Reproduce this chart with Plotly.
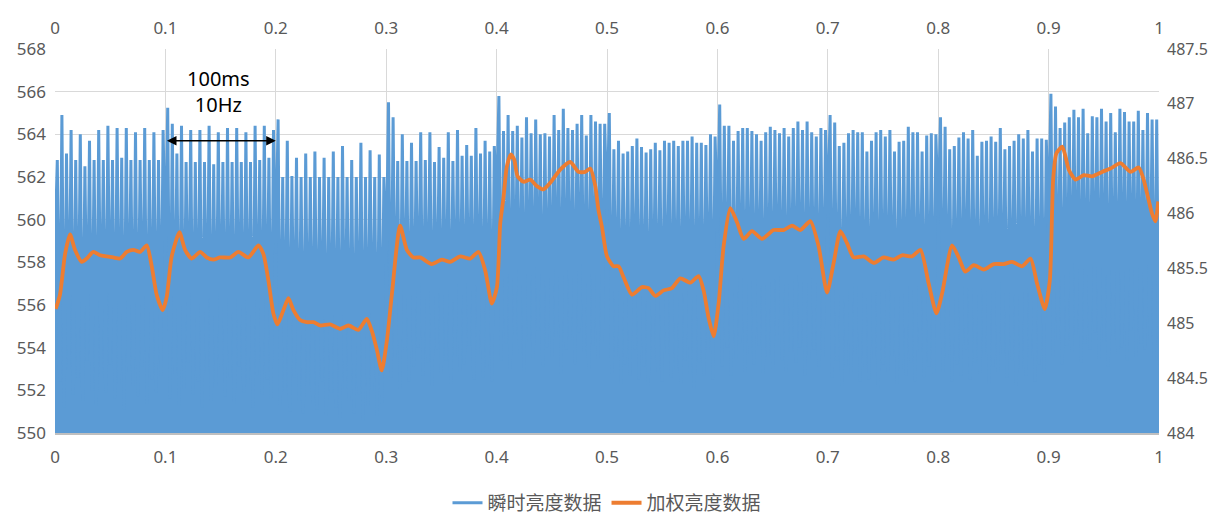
import plotly.graph_objects as go

# ---------------- data ----------------
# x-axis tick labels (seconds)
x_ticks = [0, 0.1, 0.2, 0.3, 0.4, 0.5, 0.6, 0.7, 0.8, 0.9, 1]
y2_ticks = [484, 484.5, 485, 485.5, 486, 486.5, 487, 487.5]

# Instantaneous brightness: peak values of each flicker pulse, per 0.1 s segment (24 per segment)
peaks_0 = [562.8, 564.9, 563.1, 564.2, 562.8, 564.0, 562.5, 563.7, 562.8, 564.2, 562.8, 564.4,
           562.8, 564.3, 562.9, 564.3, 562.8, 564.1, 562.8, 564.3, 562.8, 564.1, 562.8, 564.2]
peaks_1 = [565.25, 564.5, 563.1, 564.4, 562.7, 564.2, 562.7, 564.2, 562.7, 564.4, 562.6, 564.1,
           562.7, 564.3, 562.7, 564.3, 562.7, 564.1, 562.7, 564.4, 562.8, 564.4, 562.9, 564.2]
peaks_2 = [564.7, 562.0, 563.7, 562.05, 562.9, 562.0, 563.1, 562.0, 563.2, 562.0, 562.9, 562.0,
           563.2, 562.0, 563.45, 562.0, 562.8, 562.0, 563.6, 562.0, 563.25, 562.0, 563.05, 562.0]
peaks_3 = [565.5, 564.8, 562.75, 564.0, 562.75, 563.6, 562.75, 564.1, 562.8, 564.1, 562.7, 563.4,
           562.9, 564.1, 562.75, 564.2, 563.0, 563.5, 563.0, 564.3, 563.1, 563.7, 563.2, 563.45]
peaks_4 = [565.8, 564.15, 564.9, 564.15, 564.4, 563.85, 564.8, 564.05, 564.7, 564.0, 564.05, 563.9,
           564.9, 564.2, 565.2, 564.3, 564.2, 564.5, 564.9, 563.95, 564.9, 564.6, 564.5, 564.5]
peaks_5 = [565.0, 563.3, 563.7, 563.1, 563.2, 563.45, 563.8, 563.4, 563.15, 563.3, 563.6, 563.25,
           563.7, 563.6, 563.7, 563.45, 563.7, 563.7, 563.9, 563.6, 563.6, 563.5, 564.0, 563.9]
peaks_6 = [565.4, 564.4, 564.4, 563.7, 564.15, 564.3, 564.3, 564.15, 564.0, 563.7, 564.1, 564.35,
           564.2, 564.05, 564.3, 563.9, 564.3, 564.6, 564.2, 564.6, 564.1, 563.9, 564.3, 564.2]
peaks_7 = [564.9, 564.55, 563.45, 563.6, 564.05, 564.2, 564.1, 564.1, 563.2, 563.7, 564.1, 564.2,
           563.9, 564.2, 563.2, 563.65, 563.7, 564.35, 564.1, 564.1, 563.2, 563.95, 564.05, 564.0]
peaks_8 = [564.8, 564.35, 563.3, 563.45, 563.85, 564.1, 563.8, 564.2, 563.0, 563.65, 563.7, 563.9,
           563.65, 564.3, 563.3, 563.45, 563.7, 564.0, 563.8, 564.2, 563.2, 563.8, 563.8, 563.75]
peaks_9 = [565.9, 565.3, 564.3, 564.55, 564.8, 565.15, 564.8, 565.2, 564.05, 564.85, 564.8, 565.2,
           564.6, 565.0, 564.1, 565.2, 565.05, 564.6, 564.6, 565.1, 564.2, 565.0, 564.7, 564.7]

# Instantaneous brightness: trough values before each pulse (first one of each segment is the gap at the 0.1 s mark)
lows_0 = [558.7, 552.4, 551.2, 553.0, 551.8, 552.6, 551.5, 553.4, 552.0, 551.3, 552.8, 551.9,
          553.2, 551.6, 552.3, 551.1, 552.9, 552.2, 551.7, 553.1, 551.4, 552.5, 551.9, 552.7]
lows_1 = [558.3, 551.6, 552.8, 551.3, 552.1, 553.3, 551.8, 552.4, 551.2, 552.9, 551.5, 552.2,
          553.0, 551.7, 552.6, 551.4, 553.1, 551.9, 552.3, 551.2, 552.7, 551.8, 552.5, 551.6]
lows_2 = [558.4, 551.3, 552.0, 551.0, 552.6, 551.5, 550.9, 552.2, 551.4, 551.1, 552.4, 550.8,
          551.9, 551.2, 550.7, 552.1, 551.5, 550.9, 551.8, 550.6, 551.3, 552.0, 550.8, 551.4]
lows_3 = [557.6, 552.6, 553.5, 552.1, 553.8, 552.4, 553.1, 554.0, 552.7, 553.3, 552.2, 553.9,
          552.8, 553.4, 552.3, 553.6, 552.9, 553.2, 554.1, 552.5, 553.7, 552.6, 553.0, 552.4]
lows_4 = [560.6, 553.4, 554.2, 553.0, 554.6, 553.7, 552.9, 554.3, 553.5, 554.8, 553.1, 554.0,
          553.6, 554.5, 552.8, 553.9, 554.4, 553.2, 554.7, 553.8, 553.0, 554.1, 553.5, 554.3]
lows_5 = [560.2, 552.8, 553.6, 552.3, 553.2, 552.7, 553.9, 552.5, 553.1, 552.2, 553.5, 552.9,
          552.4, 553.7, 552.6, 553.0, 552.3, 553.4, 552.8, 552.1, 553.3, 552.7, 553.8, 552.5]
lows_6 = [559.4, 553.1, 554.0, 552.7, 553.5, 554.2, 552.9, 553.7, 553.2, 554.1, 552.8, 553.6,
          553.0, 554.3, 553.4, 552.9, 553.8, 553.3, 554.0, 552.7, 553.5, 553.9, 553.1, 553.6]
lows_7 = [560.1, 552.6, 553.4, 552.2, 553.1, 552.8, 553.7, 552.4, 553.0, 552.5, 553.5, 552.1,
          553.2, 552.9, 553.6, 552.3, 553.0, 552.7, 553.3, 552.4, 553.8, 552.6, 553.1, 552.8]
lows_8 = [560.1, 552.9, 553.5, 552.4, 553.2, 552.7, 553.9, 552.5, 553.3, 552.8, 553.6, 552.3,
          553.1, 552.9, 553.7, 552.6, 553.4, 552.2, 553.0, 552.7, 553.5, 552.4, 553.2, 552.8]
lows_9 = [559.75, 553.6, 554.4, 553.2, 554.1, 553.8, 554.6, 553.3, 554.2, 553.9, 554.7, 553.5,
          554.3, 553.1, 554.5, 553.7, 554.0, 553.4, 554.8, 553.6, 554.2, 553.9, 554.4, 553.5]
low_end = 553.2

# Weighted brightness (right axis)
w_time = [0.0006, 0.0045, 0.0091, 0.0136, 0.0181, 0.0242, 0.0287, 0.0347, 0.0408, 0.0468,
          0.0529, 0.0589, 0.0650, 0.0710, 0.0770, 0.0831, 0.0876, 0.0921, 0.0976, 0.1012,
          0.1057, 0.1127, 0.1178, 0.1239, 0.1314, 0.1375, 0.1435, 0.1495, 0.1586, 0.1661,
          0.1752, 0.1843, 0.1888, 0.1933, 0.1978, 0.2015, 0.2069, 0.2114, 0.2160, 0.2220,
          0.2281, 0.2341, 0.2401, 0.2492, 0.2583, 0.2658, 0.2749, 0.2824, 0.2870, 0.2915,
          0.2960, 0.3006, 0.3051, 0.3126, 0.3187, 0.3247, 0.3308, 0.3413, 0.3504, 0.3580,
          0.3670, 0.3761, 0.3836, 0.3897, 0.3957, 0.4003, 0.4033, 0.4063, 0.4093, 0.4130,
          0.4160, 0.4190, 0.4244, 0.4305, 0.4365, 0.4425, 0.4486, 0.4576, 0.4667, 0.4742,
          0.4803, 0.4848, 0.4894, 0.4923, 0.4954, 0.5000, 0.5059, 0.5105, 0.5150, 0.5226,
          0.5317, 0.5377, 0.5437, 0.5513, 0.5588, 0.5664, 0.5754, 0.5830, 0.5875, 0.5920,
          0.5966, 0.6011, 0.6056, 0.6117, 0.6178, 0.6238, 0.6313, 0.6404, 0.6509, 0.6600,
          0.6676, 0.6751, 0.6842, 0.6917, 0.6993, 0.7053, 0.7114, 0.7174, 0.7234, 0.7325,
          0.7416, 0.7506, 0.7597, 0.7672, 0.7763, 0.7839, 0.7914, 0.7984, 0.8035, 0.8126,
          0.8186, 0.8246, 0.8322, 0.8412, 0.8503, 0.8594, 0.8669, 0.8760, 0.8836, 0.8896,
          0.8965, 0.9011, 0.9032, 0.9041, 0.9071, 0.9123, 0.9153, 0.9183, 0.9243, 0.9318,
          0.9394, 0.9484, 0.9560, 0.9651, 0.9741, 0.9816, 0.9861, 0.9907, 0.9937, 0.9968,
          0.9993]
w_value = [485.13, 485.26, 485.63, 485.81, 485.67, 485.56, 485.59, 485.65, 485.62, 485.61,
           485.60, 485.59, 485.65, 485.67, 485.65, 485.71, 485.52, 485.26, 485.12, 485.24,
           485.61, 485.83, 485.67, 485.59, 485.65, 485.60, 485.58, 485.60, 485.60, 485.65,
           485.60, 485.71, 485.63, 485.39, 485.09, 484.99, 485.12, 485.23, 485.12, 485.03,
           485.01, 485.01, 484.98, 484.99, 484.95, 484.98, 484.94, 485.04, 484.93, 484.76,
           484.57, 484.84, 485.26, 485.89, 485.67, 485.60, 485.60, 485.54, 485.58, 485.56,
           485.61, 485.59, 485.65, 485.48, 485.18, 485.33, 485.91, 486.15, 486.43, 486.54,
           486.49, 486.34, 486.29, 486.31, 486.25, 486.22, 486.28, 486.40, 486.47, 486.38,
           486.38, 486.41, 486.25, 486.03, 485.88, 485.61, 485.52, 485.52, 485.42, 485.26,
           485.33, 485.32, 485.25, 485.30, 485.32, 485.41, 485.37, 485.43, 485.30, 485.05,
           484.88, 485.18, 485.70, 486.05, 485.92, 485.77, 485.84, 485.77, 485.85, 485.85,
           485.89, 485.85, 485.93, 485.70, 485.28, 485.55, 485.84, 485.73, 485.60, 485.61,
           485.55, 485.60, 485.58, 485.62, 485.61, 485.67, 485.36, 485.09, 485.27, 485.71,
           485.60, 485.47, 485.53, 485.49, 485.54, 485.54, 485.56, 485.52, 485.59, 485.36,
           485.13, 485.39, 486.03, 486.31, 486.55, 486.61, 486.52, 486.40, 486.31, 486.35,
           486.34, 486.38, 486.41, 486.46, 486.38, 486.42, 486.31, 486.12, 486.00, 485.93,
           486.11]

series_names = ["瞬时亮度数据", "加权亮度数据"]
annotation_text = "100ms<br>10Hz"

# ---------------- build blue sample sequence ----------------
peaks = (peaks_0 + peaks_1 + peaks_2 + peaks_3 + peaks_4 +
         peaks_5 + peaks_6 + peaks_7 + peaks_8 + peaks_9)
lows = (lows_0 + lows_1 + lows_2 + lows_3 + lows_4 +
        lows_5 + lows_6 + lows_7 + lows_8 + lows_9 + [low_end])
n = len(peaks)
b_time, b_value = [], []
for k in range(n):
    b_time += [k / n, (k + 0.5) / n]
    b_value += [lows[k], peaks[k]]
b_time.append(1.0)
b_value.append(lows[n])

BLUE = "#5b9bd5"
ORANGE = "#ed7d31"
TXT = "#595959"
GRID = "#d9d9d9"
FONT = "Noto Sans, Open Sans, sans-serif"

fig = go.Figure()
fig.add_trace(go.Scatter(
    x=b_time, y=b_value, mode="lines", line=dict(color=BLUE, width=3),
    fill="tozeroy", fillcolor=BLUE, showlegend=False, name=series_names[0],
    xaxis="x", yaxis="y"))
fig.add_trace(go.Scatter(
    x=[None], y=[None], mode="lines", line=dict(color=BLUE, width=3),
    name=series_names[0], xaxis="x", yaxis="y"))
fig.add_trace(go.Scatter(
    x=w_time, y=w_value, mode="lines", line=dict(color=ORANGE, width=3.8, shape="spline", smoothing=0.6),
    name=series_names[1], xaxis="x2", yaxis="y2"))

tick_font = dict(family=FONT, size=17, color=TXT)
tick_font_r = dict(family=FONT, size=16, color=TXT)
# the page adds an 8 px body margin, so the figure is sized 8 px smaller
fig.update_layout(
    width=1208, height=507,
    margin=dict(l=47, r=57, t=41, b=82, autoexpand=False),
    paper_bgcolor="white", plot_bgcolor="white",
    showlegend=True,
    legend=dict(orientation="h", x=0.5, xanchor="center", y=-0.182, yanchor="middle",
                font=dict(family="Noto Sans CJK SC", size=19, color=TXT),
                traceorder="normal"),
    xaxis=dict(range=[0, 1], tickvals=x_ticks, ticktext=[str(t) for t in x_ticks],
               showgrid=True, gridcolor=GRID, gridwidth=1.2, automargin=False,
               showline=True, linecolor="#bfbfbf", linewidth=2, zeroline=False,
               ticks="", tickfont=tick_font, ticklabelstandoff=8),
    xaxis2=dict(range=[0, 1], tickvals=x_ticks, ticktext=[str(t) for t in x_ticks],
                overlaying="x", side="top", showgrid=False, zeroline=False, automargin=False,
                ticks="", tickfont=tick_font, ticklabelstandoff=11),
    yaxis=dict(range=[550, 568], dtick=2, showgrid=True, gridcolor=GRID, gridwidth=1.2,
               zeroline=False, ticks="", tickfont=tick_font, ticklabelstandoff=8,
               automargin=False),
    yaxis2=dict(range=[484, 487.5], tickvals=y2_ticks, ticktext=[str(t) for t in y2_ticks],
                overlaying="y", side="right",
                showgrid=False, zeroline=False, ticks="", tickfont=tick_font_r,
                ticklabelstandoff=7, automargin=False),
)

fig.add_annotation(x=0.148, y=566.0, xref="x", yref="y", text=annotation_text,
                   showarrow=False, font=dict(family=FONT, size=20, color="black"),
                   align="center")
fig.add_annotation(x=0.2, y=563.7, ax=0.1, ay=563.7, xref="x", yref="y",
                   axref="x", ayref="y", text="", showarrow=True,
                   arrowside="end+start", arrowhead=2, arrowsize=1.2,
                   arrowwidth=1.6, arrowcolor="black")

fig.write_html("out.html")
